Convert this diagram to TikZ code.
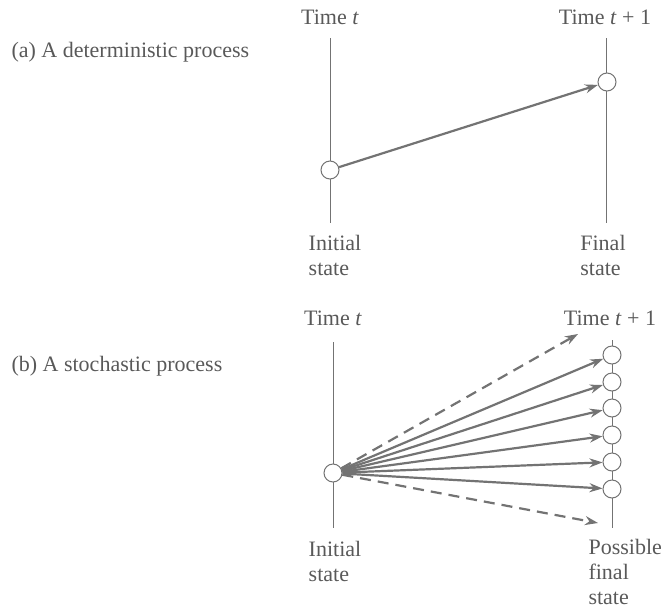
\documentclass[tikz,border=0pt]{standalone}
\usepackage{fontspec}
\setmainfont{Liberation Serif}
\usetikzlibrary{arrows.meta}
\definecolor{ink}{gray}{0.35}
\definecolor{rule}{gray}{0.45}
\begin{document}
\begin{tikzpicture}[x=1pt,y=-1pt,
	every node/.style={text=ink,font=\fontsize{22}{25}\selectfont},
	st/.style={circle,draw=rule,fill=white,line width=1pt,minimum size=18pt,inner sep=0pt},
	axis/.style={draw=rule,line width=0.9pt},
	arr/.style={draw=rule,line width=2.2pt,-{Stealth[length=13pt,width=9pt]}},
	darr/.style={arr,dash pattern=on 11pt off 7pt}]
	\useasboundingbox (0,0) rectangle (664,611);

	% (a) deterministic
	\node[anchor=west] (capa) at (8,52) {(a) A deterministic process};
	\node (ta) at (330,17) {Time \textit{t}};
	\node (ta1) at (605,17) {Time \textit{t} + 1};
	\coordinate (atop0) at (330,38);
	\coordinate (abot0) at (330,223);
	\coordinate (atop1) at (606,38);
	\coordinate (abot1) at (606,223);
	\draw[axis] (atop0) -- (abot0);
	\draw[axis] (atop1) -- (abot1);
	\node[st] (a0) at (330,170) {};
	\node[st] (a1) at (607,82) {};
	\draw[arr] (a0) -- (a1);
	\node[align=left] (ina) at (335,255) {Initial\\state};
	\node[align=left] (fina) at (603,255) {Final\\state};

	% (b) stochastic
	\node[anchor=west] (capb) at (8,366) {(b) A stochastic process};
	\node (tb) at (333,318) {Time \textit{t}};
	\node (tb1) at (610,318) {Time \textit{t} + 1};
	\coordinate (btop0) at (333,342);
	\coordinate (bbot0) at (333,528);
	\coordinate (btop1) at (612,340);
	\coordinate (bbot1) at (612,528);
	\draw[axis] (btop0) -- (bbot0);
	\draw[axis] (btop1) -- (bbot1);
	\node[st] (b0) at (333,473) {};
	\foreach \y [count=\i] in {355,382,408,435,462,489} {
		\node[st] (f\i) at (612,\y) {};
		\draw[arr] (b0) -- (f\i);
	}
	\coordinate (up) at (578,334);
	\coordinate (dn) at (598,523);
	\draw[darr] (b0) -- (up);
	\draw[darr] (b0) -- (dn);
	\node[align=left] (inb) at (335,561) {Initial\\state};
	\node[align=left,anchor=north west] (finb) at (585,536) {Possible\\final\\state};
\end{tikzpicture}
\end{document}
